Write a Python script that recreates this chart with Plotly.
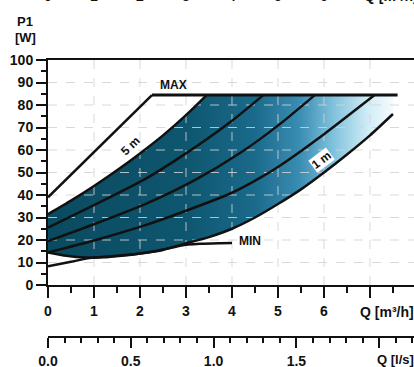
import plotly.graph_objects as go

# ---------------- data ----------------
line1_x = [0, 2.26]
line1_y = [39, 84.4]
line2_x = [0, 0.5, 1.0, 1.5, 2.0, 2.5, 3.0, 3.45]
line2_y = [31.5, 37.5, 44, 51, 58.5, 66.5, 75.5, 84.4]
line3_x = [0, 1, 2.08, 3, 4, 4.68]
line3_y = [25.5, 35.5, 46.7, 58.5, 73, 84.4]
line4_x = [0, 1, 2.1, 3.2, 4.2, 5.04, 5.8]
line4_y = [19.5, 27, 35.8, 46.7, 59, 71.5, 84.4]
line5_x = [0, 1, 2.1, 3, 4, 4.6, 5.04, 6, 7.1]
line5_y = [14.5, 19.8, 26.5, 33, 41, 47.5, 53, 67, 84.4]
env_x = [0, 0.4, 0.8, 1.2, 1.6, 2.0, 2.5, 3.0, 3.5, 4.0, 4.5, 5.0, 5.5, 6.0, 6.5, 7.0, 7.5]
env_y = [14.5, 13, 12.2, 12.3, 13, 14, 15.8, 18.5, 21.3, 25, 30, 36, 42.5, 50, 58, 66.5, 76]
min_x = [0, 0.5, 0.9, 1.5, 2.0, 2.5, 2.9, 3.3, 3.7, 4.0]
min_y = [8.3, 10.3, 12, 13, 14, 15.6, 17.6, 18.3, 18.6, 18.7]
max_level = 84.4
max_end = 7.6

q_ticks = [0, 1, 2, 3, 4, 5, 6, 7]
q_labels = ["0", "1", "2", "3", "4", "5", "6", ""]
ls_ticks = [0, 0.5, 1.0, 1.5, 2.0]
ls_labels = ["0.0", "0.5", "1.0", "1.5", ""]
p_ticks = [0, 10, 20, 30, 40, 50, 60, 70, 80, 90, 100]
grid_q = [1, 2, 3, 4, 5, 6, 7]
grid_p = [10, 20, 30, 40, 50, 60, 70, 80, 90]
# cut-off labels of the chart above (only their lower edge is visible)
top_labels = ["0", "1", "2", "3", "4", "5", "6"]

M3H_PER_LS = 3.6
X_MAX = 7.957

FONT = "Liberation Sans, Arial, sans-serif"
INK = "#111111"

fig = go.Figure()

# blue operating area with horizontal gradient
fill_x = line2_x + [env_x[-1], env_x[-1]] + env_x[::-1]
fill_y = line2_y + [max_level, env_y[-1]] + env_y[::-1]
fig.add_trace(go.Scatter(
    x=fill_x, y=fill_y, mode="lines", line=dict(width=0),
    fill="toself",
    fillgradient=dict(type="horizontal", start=0, stop=7.5,
                      colorscale=[[0, "#0a4a60"], [0.4, "#0e566f"], [0.6, "#1a6a8b"],
                                  [0.73, "#3a8db3"], [0.83, "#82c3de"], [0.93, "#d2edf7"],
                                  [1, "#f4fbfd"]]),
    hoverinfo="skip", showlegend=False))

# grid lines (drawn over the fill)
gx, gy = [], []
for v in grid_q:
    gx += [v, v, None]
    gy += [0, 100, None]
for v in grid_p:
    gx += [0, X_MAX, None]
    gy += [v, v, None]
fig.add_trace(go.Scatter(x=gx, y=gy, mode="lines",
                         line=dict(color="rgba(210,210,210,0.85)", width=1, dash="dash"),
                         hoverinfo="skip", showlegend=False))

curve = dict(color=INK, width=2.5)
for xs, ys in [(line1_x, line1_y), (line2_x, line2_y), (line3_x, line3_y),
               (line4_x, line4_y), (line5_x, line5_y), (env_x, env_y), (min_x, min_y)]:
    fig.add_trace(go.Scatter(x=xs, y=ys, mode="lines", line=dict(shape="spline", smoothing=0.6, **curve),
                             hoverinfo="skip", showlegend=False))
fig.add_trace(go.Scatter(x=[line1_x[-1], max_end], y=[max_level, max_level], mode="lines",
                         line=dict(color=INK, width=3), hoverinfo="skip", showlegend=False))

# invisible trace on the l/s axis so it is drawn
fig.add_trace(go.Scatter(x=[v / M3H_PER_LS for v in env_x], y=env_y, xaxis="x2", yaxis="y",
                         mode="lines", line=dict(width=0), opacity=0,
                         hoverinfo="skip", showlegend=False))

tickfont = dict(family=FONT, size=14, color=INK, weight="bold")
lab = dict(family=FONT, size=12, color=INK, weight="bold")
unitfont = dict(family=FONT, size=13, color=INK, weight="bold")

W, H, T, B = 414, 367, 60, 0
PH = H - T - B
y_bottom_px = 285
ls_axis_px = 337
ydom0 = (H - y_bottom_px) / PH
ls_pos = (H - ls_axis_px) / PH


def py(px):
    """paper y for a pixel row"""
    return 1 - (px - T) / PH


fig.update_layout(
    width=W, height=H, margin=dict(l=48, r=0, t=T, b=B, autoexpand=False),
    paper_bgcolor="white", plot_bgcolor="white",
    xaxis=dict(range=[0, X_MAX], domain=[0, 1], anchor="y", automargin=False,
               tickmode="array", tickvals=q_ticks, ticktext=q_labels,
               ticks="outside", ticklen=11, tickwidth=2, tickcolor=INK,
               showline=True, linecolor=INK, linewidth=2, mirror=True,
               showgrid=False, zeroline=False, tickfont=tickfont, ticklabelstandoff=1,
               minor=dict(tickmode="linear", tick0=0, dtick=0.5, ticks="outside",
                          ticklen=6, tickwidth=2, tickcolor=INK, showgrid=False)),
    xaxis2=dict(range=[0, X_MAX / M3H_PER_LS], overlaying="x", anchor="free", position=ls_pos,
                automargin=False,
                side="bottom", tickmode="array", tickvals=ls_ticks, ticktext=ls_labels,
                ticks="outside", ticklen=10, tickwidth=2, tickcolor=INK,
                showline=True, linecolor=INK, linewidth=2, showgrid=False, zeroline=False,
                tickfont=tickfont, ticklabelstandoff=1,
                minor=dict(tickmode="linear", tick0=0, dtick=0.1, ticks="outside",
                           ticklen=5, tickwidth=2, tickcolor=INK, showgrid=False)),
    yaxis=dict(range=[0, 100], domain=[ydom0, 1], anchor="x", automargin=False,
               tickmode="array", tickvals=p_ticks,
               ticks="outside", ticklen=10, tickwidth=2, tickcolor=INK,
               showline=True, linecolor=INK, linewidth=2,
               showgrid=False, zeroline=False, tickfont=tickfont,
               minor=dict(tickmode="linear", tick0=0, dtick=5, ticks="outside",
                          ticklen=5, tickwidth=2, tickcolor=INK, showgrid=False)),
    showlegend=False,
)

ann = []
ann.append(dict(text="MAX", x=2.72, y=88.9, xref="x", yref="y", showarrow=False, font=lab))
ann.append(dict(text="MIN", x=4.1, y=19.5, xref="x", yref="y", xanchor="left", showarrow=False, font=lab))
ann.append(dict(text="5 m", x=1.79, y=61.8, xref="x", yref="y", showarrow=False, font=lab, textangle=-44))
ann.append(dict(text="1 m", x=5.95, y=55.6, xref="x", yref="y", showarrow=False, font=lab,
                textangle=-37, bgcolor="white", borderpad=0))
# axis titles
ann.append(dict(text="Q [m³/h]", x=q_ticks[-1], xref="x", xanchor="left", xshift=-12,
                y=py(312), yref="paper", yanchor="middle", showarrow=False, font=tickfont))
ann.append(dict(text="Q [l/s]", x=ls_ticks[-1], xref="x2", xanchor="left", xshift=-4,
                y=py(359), yref="paper", yanchor="middle", showarrow=False, font=unitfont))
ann.append(dict(text="P1", x=0, xref="x domain", xanchor="center", xshift=-23,
                y=py(22), yref="paper", yanchor="middle", showarrow=False, font=unitfont))
ann.append(dict(text="[W]", x=0, xref="x domain", xanchor="center", xshift=-23,
                y=py(38), yref="paper", yanchor="middle", showarrow=False, font=unitfont))
# fragments of the neighbouring chart's axis labels at the top edge
for i, t in enumerate(top_labels):
    ann.append(dict(text=t, x=q_ticks[i], xref="x", xanchor="center",
                    y=py(-4), yref="paper", yanchor="middle", showarrow=False, font=tickfont))
ann.append(dict(text="Q [m³/h]", x=q_ticks[-1], xref="x", xanchor="left", xshift=-8,
                y=py(-4), yref="paper", yanchor="middle", showarrow=False, font=tickfont))
fig.update_layout(annotations=ann)

fig.write_html("out.html")
